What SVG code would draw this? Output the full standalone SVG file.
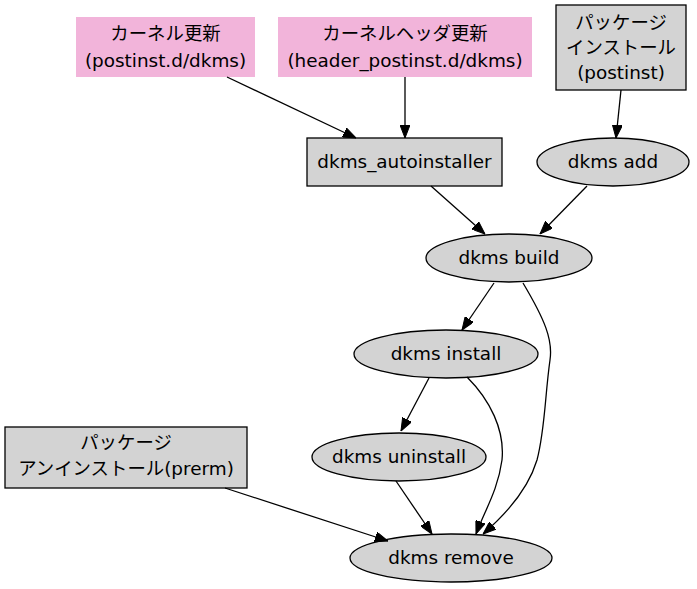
<svg xmlns="http://www.w3.org/2000/svg" width="697" height="589" viewBox="0 0 697 589">
<defs>
<marker id="arr" markerWidth="13" markerHeight="10" refX="13" refY="5" orient="auto" markerUnits="userSpaceOnUse">
<path d="M0,0 L13,5 L0,10 Z" fill="#000" stroke="#000" stroke-width="1"/>
</marker>
</defs>
<style>
text{font-family:"DejaVu Sans","Noto Sans CJK JP",sans-serif;font-size:18.4px;text-anchor:middle;fill:#000}
.pink{fill:#f2b4da;stroke:none}
.gray{fill:#d3d3d3;stroke:#000;stroke-width:1.3}
.e{fill:none;stroke:#000;stroke-width:1.3;marker-end:url(#arr)}
</style>
<rect width="697" height="589" fill="#fff"/>
<g id="kernel_update">
<rect class="pink" x="76" y="17" width="179" height="60"/>
<text x="165.5" y="40">カーネル更新</text>
<text x="165.5" y="67">(postinst.d/dkms)</text>
</g>
<g id="kernel_header_update">
<rect class="pink" x="278" y="17" width="254" height="60"/>
<text x="405" y="40">カーネルヘッダ更新</text>
<text x="405" y="67">(header_postinst.d/dkms)</text>
</g>
<g id="package_install">
<rect class="gray" x="556" y="5" width="130" height="85"/>
<text x="621" y="29">パッケージ</text>
<text x="621" y="54">インストール</text>
<text x="621" y="79">(postinst)</text>
</g>
<g id="dkms_autoinstaller">
<rect class="gray" x="307" y="138" width="195" height="48"/>
<text x="404.5" y="168">dkms_autoinstaller</text>
</g>
<g id="dkms_add">
<ellipse class="gray" cx="613" cy="162" rx="76" ry="24"/>
<text x="613" y="168">dkms add</text>
</g>
<g id="dkms_build">
<ellipse class="gray" cx="509" cy="258" rx="83" ry="24"/>
<text x="509" y="264">dkms build</text>
</g>
<g id="dkms_install">
<ellipse class="gray" cx="446" cy="354" rx="92" ry="24"/>
<text x="446" y="360">dkms install</text>
</g>
<g id="dkms_uninstall">
<ellipse class="gray" cx="399" cy="457" rx="87" ry="24"/>
<text x="399" y="463">dkms uninstall</text>
</g>
<g id="package_uninstall">
<rect class="gray" x="5" y="427" width="242" height="61"/>
<text x="126" y="449">パッケージ</text>
<text x="126" y="475">アンインストール(prerm)</text>
</g>
<g id="dkms_remove">
<ellipse class="gray" cx="451" cy="558" rx="101" ry="24"/>
<text x="451" y="564">dkms remove</text>
</g>
<g id="connectors">
<path class="e" d="M227,77 L356,138"/>
<path class="e" d="M405,77 L405,138"/>
<path class="e" d="M621,90 L616,138"/>
<path class="e" d="M431,186 L485,234"/>
<path class="e" d="M587,186 L540,234"/>
<path class="e" d="M494,283 L462,330"/>
<path class="e" d="M523,283 C545,320 553,340 550,360 C545,395 545,430 537,460 C528,490 505,515 483,534"/>
<path class="e" d="M467,377 C490,400 505,430 502,460 C498,490 485,510 476,534"/>
<path class="e" d="M429,378 L401,431"/>
<path class="e" d="M396,481 L432,534"/>
<path class="e" d="M225,488 L388,541"/>
</g>
</svg>
